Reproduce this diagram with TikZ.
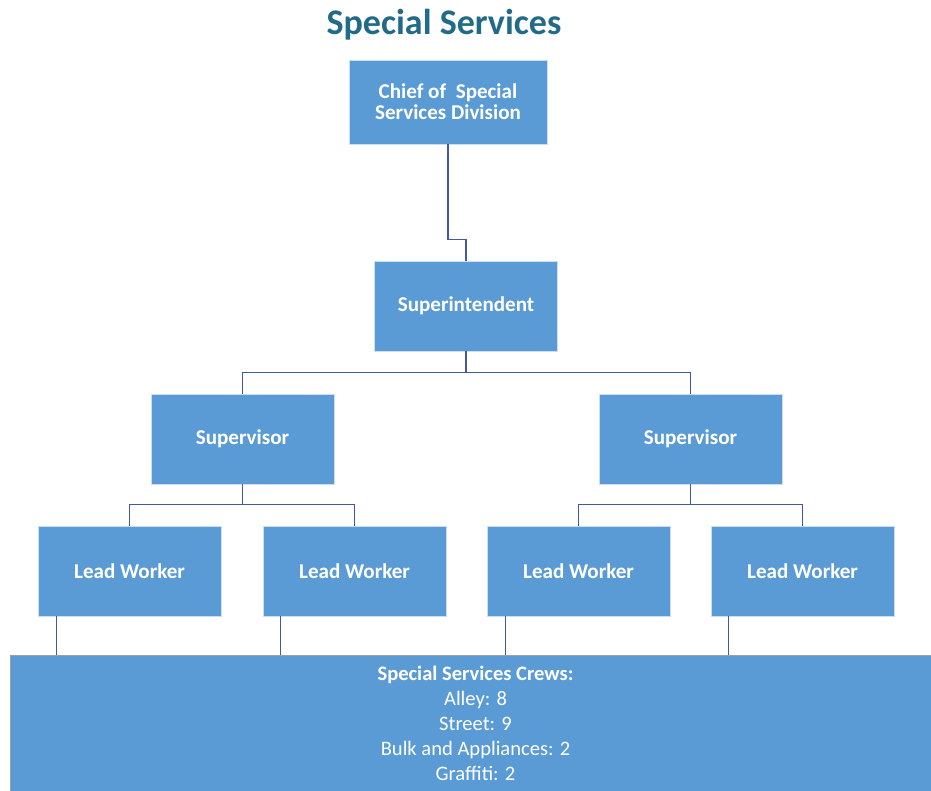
\documentclass[tikz,border=0pt]{standalone}
\usepackage{fontspec}
\setmainfont{Carlito}
\usetikzlibrary{calc}
\definecolor{boxblue}{RGB}{91,155,213}
\definecolor{boxedge}{RGB}{205,222,240}
\definecolor{linkblue}{RGB}{66,88,164}
\definecolor{titleteal}{RGB}{33,106,136}
\tikzset{
  unit/.style={fill=boxblue,draw=boxedge,line width=0.4pt,text=white,
    font=\fontsize{12}{12}\selectfont\bfseries,align=center,
    minimum width=183*0.02cm,minimum height=90*0.02cm,inner sep=0pt},
  link/.style={draw=linkblue,line width=0.6pt}
}
\begin{document}
\begin{tikzpicture}[x=0.02cm,y=-0.02cm]
\useasboundingbox (0,0) rectangle (931,791);
\node[font=\fontsize{20.5}{24}\selectfont\bfseries,text=titleteal] (title) at (444,25) {Special Services};
\node[unit,minimum width=198*0.02cm,minimum height=84*0.02cm] (chief) at (448,102) {Chief of~ Special\\Services Division};
\node[unit] (sup) at (466,306) {Superintendent};
\node[unit] (svL) at (242.5,439) {Supervisor};
\node[unit] (svR) at (690.5,439) {Supervisor};
\node[unit] (lw1) at (129.5,571) {Lead Worker};
\node[unit] (lw2) at (354.5,571) {Lead Worker};
\node[unit] (lw3) at (578.5,571) {Lead Worker};
\node[unit] (lw4) at (802.5,571) {Lead Worker};
\node[fill=boxblue,draw=gray!75,line width=0.6pt,text=white,align=center,inner sep=0pt,
  font=\fontsize{11.7}{14.2}\selectfont,minimum width=930*0.02cm,minimum height=136*0.02cm,
  anchor=north west] (crews) at (10,655)
  {\textbf{Special Services Crews:}\\Alley: 8\\Street: 9\\Bulk and Appliances: 2\\Graffiti: 2};
% connectors
\draw[link] (chief.south) -- ++(0,95) -| (sup.north);
\draw[link] (sup.south) -- ++(0,21) coordinate (j1);
\draw[link] (svL.north) |- (j1) -| (svR.north);
\draw[link] (svL.south) -- ++(0,20) coordinate (j2);
\draw[link] (lw1.north) |- (j2) -| (lw2.north);
\draw[link] (svR.south) -- ++(0,20) coordinate (j3);
\draw[link] (lw3.north) |- (j3) -| (lw4.north);
\foreach \n/\x in {lw1/56,lw2/280,lw3/505,lw4/728}
  \draw[link,line width=0.4pt] (\x,616) -- (\x,655);
\end{tikzpicture}
\end{document}
